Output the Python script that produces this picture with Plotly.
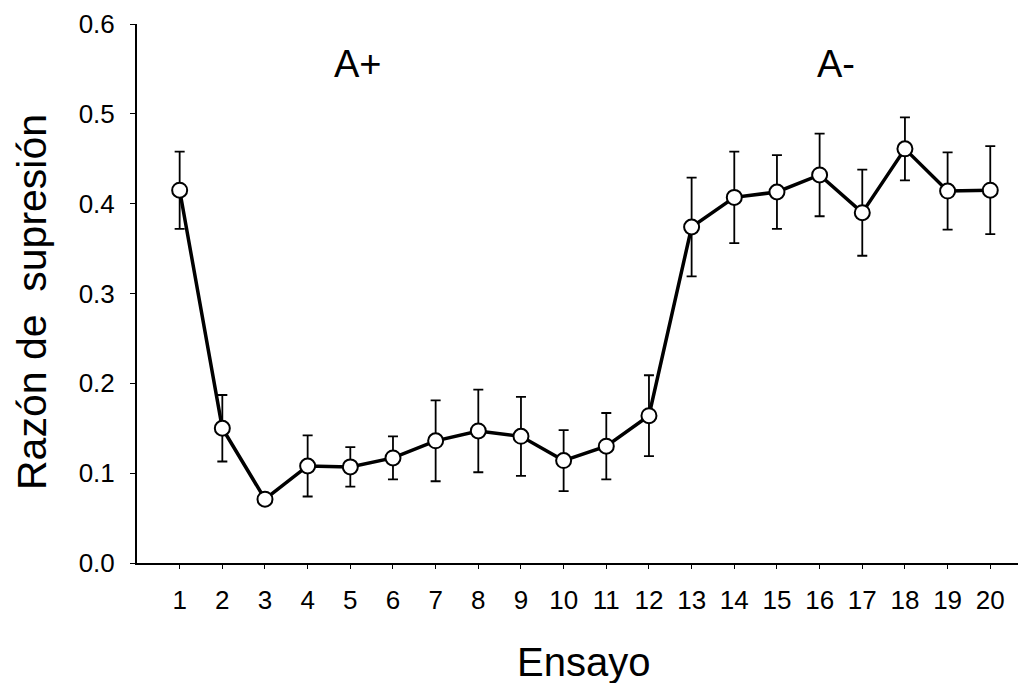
import plotly.graph_objects as go

# Trials and mean suppression ratio with standard error
ensayo = list(range(1, 21))
razon = [0.415, 0.150, 0.071, 0.108, 0.107, 0.117, 0.136, 0.147, 0.141, 0.114,
         0.130, 0.164, 0.374, 0.407, 0.413, 0.432, 0.390, 0.461, 0.414, 0.415]
error = [0.043, 0.037, 0.000, 0.034, 0.022, 0.024, 0.045, 0.046, 0.044, 0.034,
         0.037, 0.045, 0.055, 0.051, 0.041, 0.046, 0.048, 0.035, 0.043, 0.049]
y_ticks = [0.0, 0.1, 0.2, 0.3, 0.4, 0.5, 0.6]
fases = ["A+", "A-"]

FONT = "Liberation Sans, Arial, sans-serif"

fig = go.Figure()
fig.add_trace(go.Scatter(
    x=ensayo, y=razon,
    mode="lines+markers",
    line=dict(color="black", width=3.5),
    marker=dict(symbol="circle", size=15, color="white",
                line=dict(color="black", width=2)),
    error_y=dict(type="data", array=error, visible=True,
                 color="black", thickness=1.8, width=5),
    showlegend=False,
))

fig.update_layout(
    width=1022, height=683,
    margin=dict(l=137, r=4, t=24, b=120),
    paper_bgcolor="white", plot_bgcolor="white",
    font=dict(family=FONT, color="black"),
    xaxis=dict(
        range=[0, 20.65], tickvals=ensayo, ticktext=[str(v) for v in ensayo],
        showline=True, linecolor="black", linewidth=2, mirror=False,
        ticks="outside", ticklen=4, tickwidth=1, tickcolor="black",
        ticklabelstandoff=9, tickfont=dict(size=26, family=FONT),
        showgrid=False, zeroline=False,
    ),
    yaxis=dict(
        range=[0, 0.6], tickvals=y_ticks, tickformat=".1f",
        showline=True, linecolor="black", linewidth=2,
        ticks="outside", ticklen=5, tickwidth=1, tickcolor="black",
        ticklabelstandoff=10, tickfont=dict(size=26, family=FONT),
        showgrid=False, zeroline=False,
    ),
    annotations=[
        dict(text=fases[0], x=358, y=64, showarrow=False,
             font=dict(size=38, family=FONT)),
        dict(text=fases[1], x=836, y=64, showarrow=False,
             font=dict(size=38, family=FONT)),
        dict(text="Ensayo", x=583, y=662, showarrow=False,
             font=dict(size=40, family=FONT)),
        dict(text="Razón de  supresión", textangle=-90,
             x=32, y=302, showarrow=False, font=dict(size=41, family=FONT)),
    ],
)

# Convert annotation positions given in pixels to paper coordinates
W, H = 1022, 683
pw, ph = W - 137 - 4, H - 24 - 120
for ann in fig.layout.annotations:
    px, py = ann.x, ann.y
    ann.x = (px - 137) / pw
    ann.y = (H - 120 - py) / ph
    ann.xref = "paper"
    ann.yref = "paper"
    ann.xanchor = "center"
    ann.yanchor = "middle"

fig.write_html("out.html")
